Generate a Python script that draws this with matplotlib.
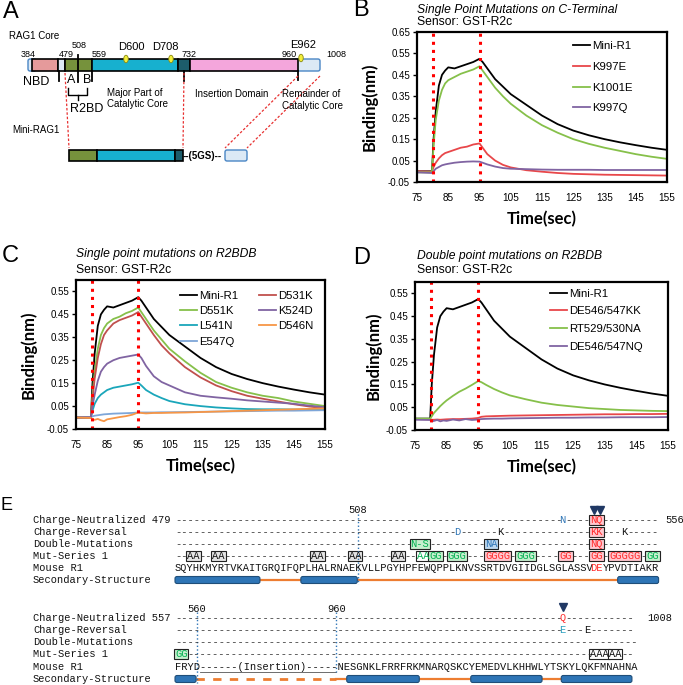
import numpy as np
import matplotlib
matplotlib.use("Agg")
import matplotlib.pyplot as plt
from matplotlib.patches import Rectangle, FancyBboxPatch, Ellipse
from matplotlib.ticker import FormatStrFormatter

SANS = ["Liberation Sans", "DejaVu Sans"]
BOLD = ["Lato", "DejaVu Sans"]
MONO = ["Liberation Mono", "DejaVu Sans Mono"]

# ---- sensorgram values (nm) ----
time_s = [75, 79.8, 80.3, 81, 82, 83, 84, 85, 87, 89, 91, 93, 95, 96, 97.5,
          100, 102.5, 105, 110, 115, 120, 125, 130, 135, 140, 145, 150, 155]

mini_r1 = [0.0, 0.0, 0.15, 0.28, 0.40, 0.45, 0.47, 0.485, 0.48, 0.49, 0.50, 0.51, 0.525, 0.51,
           0.48, 0.43, 0.395, 0.36, 0.31, 0.26, 0.22, 0.19, 0.168, 0.15, 0.135, 0.122, 0.11, 0.10]

# panel B
k997e = [0.0, -0.002, 0.02, 0.04, 0.06, 0.075, 0.085, 0.09, 0.10, 0.11, 0.115, 0.125, 0.13, 0.11,
         0.08, 0.05, 0.03, 0.018, 0.005, -0.002, -0.008, -0.012, -0.014, -0.016, -0.017, -0.018, -0.019, -0.02]
k1001e = [-0.005, -0.005, 0.12, 0.24, 0.33, 0.38, 0.41, 0.425, 0.44, 0.455, 0.465, 0.475, 0.49, 0.47,
          0.44, 0.39, 0.35, 0.315, 0.26, 0.215, 0.18, 0.15, 0.128, 0.11, 0.095, 0.08, 0.068, 0.058]
k997q = [-0.005, -0.008, 0.0, 0.012, 0.02, 0.028, 0.032, 0.035, 0.04, 0.043, 0.045, 0.046, 0.045, 0.04,
         0.032, 0.022, 0.015, 0.012, 0.01, 0.008, 0.007, 0.007, 0.007, 0.006, 0.006, 0.006, 0.006, 0.006]

# panel C
d531k = [0.0, 0.0, 0.08, 0.17, 0.26, 0.32, 0.36, 0.38, 0.41, 0.425, 0.435, 0.445, 0.46, 0.44,
         0.41, 0.36, 0.315, 0.28, 0.22, 0.175, 0.14, 0.115, 0.095, 0.082, 0.07, 0.058, 0.048, 0.04]
d551k = [0.0, 0.0, 0.10, 0.20, 0.30, 0.36, 0.39, 0.41, 0.43, 0.44, 0.455, 0.465, 0.48, 0.46,
         0.43, 0.38, 0.34, 0.30, 0.245, 0.195, 0.155, 0.13, 0.11, 0.095, 0.085, 0.07, 0.06, 0.05]
k524d = [0.0, 0.0, 0.05, 0.10, 0.16, 0.20, 0.22, 0.235, 0.25, 0.26, 0.265, 0.27, 0.275, 0.26,
         0.225, 0.18, 0.155, 0.14, 0.11, 0.095, 0.088, 0.082, 0.075, 0.07, 0.065, 0.06, 0.052, 0.045]
l541n = [0.0, 0.0, 0.03, 0.06, 0.085, 0.10, 0.11, 0.12, 0.13, 0.135, 0.14, 0.145, 0.152, 0.14,
         0.12, 0.10, 0.085, 0.072, 0.058, 0.05, 0.044, 0.04, 0.037, 0.036, 0.036, 0.035, 0.035, 0.035]
d546n = [0.0, -0.002, -0.008, -0.01, -0.006, -0.012, -0.016, -0.008, -0.003, 0.002, 0.006, 0.012, 0.022, 0.02,
         0.018, 0.02, 0.02, 0.021, 0.022, 0.024, 0.026, 0.028, 0.03, 0.032, 0.034, 0.036, 0.038, 0.04]
e547q = [0.0, 0.002, 0.005, 0.008, 0.01, 0.012, 0.014, 0.015, 0.017, 0.018, 0.019, 0.02, 0.022, 0.022,
         0.022, 0.022, 0.023, 0.023, 0.024, 0.025, 0.026, 0.027, 0.028, 0.029, 0.03, 0.03, 0.031, 0.032]

# panel D
de_kk = [-0.002, -0.003, -0.005, -0.005, -0.004, -0.005, -0.004, -0.003, -0.002, -0.002, -0.001, 0.0, 0.003, 0.008,
         0.01, 0.011, 0.012, 0.013, 0.014, 0.015, 0.016, 0.017, 0.018, 0.019, 0.019, 0.02, 0.02, 0.021]
rt_na = [0.0, 0.0, 0.01, 0.025, 0.04, 0.055, 0.068, 0.08, 0.10, 0.118, 0.132, 0.148, 0.165, 0.16,
         0.148, 0.13, 0.115, 0.102, 0.085, 0.07, 0.06, 0.053, 0.046, 0.042, 0.038, 0.036, 0.034, 0.033]
de_nq = [-0.005, -0.006, -0.012, -0.01, -0.006, -0.012, -0.008, -0.01, -0.004, -0.008, -0.002, -0.006, -0.004, -0.002,
         -0.001, 0.0, 0.0, 0.001, 0.002, 0.003, 0.004, 0.004, 0.005, 0.005, 0.006, 0.006, 0.006, 0.007]

# ---- sequence alignment (panel E) ----
seq1 = "SQYHKMYRTVKAITGRQIFQPLHALRNAEKVLLPGYHPFEWQPPLKNVSSRTDVGIIDGLSGLASSVDEYPVDTIAKR"
seq2 = "FRYD------(Insertion)-----NESGNKLFRRFRKMNARQSKCYEMEDVLKHHWLYTSKYLQKFMNAHNA"
row_names1 = ["Charge-Neutralized 479", "Charge-Reversal", "Double-Mutations",
              "Mut-Series 1", "Mouse R1", "Secondary-Structure"]
row_names2 = ["Charge-Neutralized 557", "Charge-Reversal", "Double-Mutations",
              "Mut-Series 1", "Mouse R1", "Secondary-Structure"]
# (start index, text, colour key, box fill key)
marks1 = [
    [(62, "N", "blue", None), (67, "NQ", "red", "red")],
    [(45, "D", "blue", None), (52, "K", "black", None), (67, "KK", "red", "red"), (72, "K", "black", None)],
    [(38, "N-S", "green", "green"), (50, "NA", "blue", "blue"), (67, "NQ", "red", "red")],
    [(2, "AA", "black", "gray"), (6, "AA", "black", "gray"), (22, "AA", "black", "gray"),
     (28, "AA", "black", "gray"), (35, "AA", "black", "gray"), (39, "AA", "green", "white"),
     (41, "GG", "green", "green"), (44, "GGG", "green", "green"), (50, "GGGG", "red", "red"),
     (55, "GGG", "green", "green"), (62, "GG", "red", "red"), (67, "GG", "red", "red"),
     (70, "GGGGG", "red", "red"), (76, "GG", "green", "green")],
]
marks2 = [
    [(62, "Q", "red", None)],
    [(62, "E", "cyan", None), (66, "E", "black", None)],
    [],
    [(0, "GG", "green", "green"), (67, "AAA", "black", "white"), (70, "AA", "black", "white")],
]
seq_red1 = [(67, "DE")]
helix1 = [(0, 13.7), (20.3, 29.4), (71.4, 78)]
helix2 = [(0, 3.4), (27.7, 39.4), (47.7, 59.2), (62.3, 73.7)]
insertion_gap = (3.4, 26.0)
triangles1 = [67, 68]
triangles2 = [62]

TXT_COL = {"blue": "#2e75b6", "red": "#ff2a2a", "green": "#00b050", "black": "#111111", "cyan": "#2aa0c0"}
BOX_COL = {"red": "#ffc7ce", "green": "#c6efce", "blue": "#bdd7ee", "gray": "#e4e4e4", "white": "#ffffff"}

fig = plt.figure(figsize=(6.83, 6.85), dpi=100)
ax0 = fig.add_axes([0, 0, 1, 1])
ax0.set_xlim(0, 683)
ax0.set_ylim(685, 0)
ax0.axis("off")

# ---------------- panel letters ----------------
for lab, x, y, s in [("A", 3, 12, 17), ("B", 353, 10, 17), ("C", 2, 256, 17),
                     ("D", 353, 258, 17), ("E", 1, 505, 13)]:
    ax0.text(x, y, lab, fontsize=s, family=SANS, ha="left", va="center")

# ---------------- panel A: domain schematic ----------------
y0, y1 = 59, 71
ax0.add_patch(FancyBboxPatch((28, y0), 8, y1 - y0, boxstyle="round,pad=0,rounding_size=2",
                             fc="#dce9f5", ec="#4a86c5", lw=1))
ax0.add_patch(FancyBboxPatch((292, y0), 28, y1 - y0, boxstyle="round,pad=0,rounding_size=2",
                             fc="#dce9f5", ec="#4a86c5", lw=1))
for xa, xb, c in [(31.7, 58.3, "#e59a9b"), (58.3, 65, "#dce9f5"), (65, 91.7, "#76923c"),
                  (91.7, 178.3, "#17b0cf"), (178.3, 190, "#1d5d6b"), (190, 298.3, "#f4a6dc")]:
    ax0.add_patch(Rectangle((xa, y0), xb - xa, y1 - y0, fc=c, ec="k", lw=1.2))
for x, ya, yb in [(59, 71, 81), (78, 55, 82), (92, 71, 81), (184, 71, 81), (298, 71, 80)]:
    ax0.plot([x, x], [ya, yb], color="k", lw=1.3)
for x, y in [(126, 59), (171, 59), (301, 58)]:
    ax0.add_patch(Ellipse((x, y), 4.5, 7.5, fc="#f2ee3a", ec="#8a8a10", lw=0.6, zorder=5))
ax0.text(9, 36, "RAG1 Core", fontsize=7, family=SANS, va="center")
for t, x, y in [("384", 21, 54), ("479", 59, 54), ("508", 72, 45), ("559", 92, 54),
                ("732", 182, 54), ("960", 282, 54), ("1008", 326, 54)]:
    ax0.text(x, y, t, fontsize=6.5, family=SANS, va="center")
for t, x, y in [("D600", 118, 47), ("D708", 152, 47), ("E962", 290, 45)]:
    ax0.text(x, y, t, fontsize=8, family=SANS, va="center")
ax0.text(23, 82, "NBD", fontsize=9, family=SANS, va="center")
ax0.text(67, 80, "A", fontsize=9, family=SANS, va="center")
ax0.text(83, 80, "B", fontsize=9, family=SANS, va="center")
ax0.plot([68, 68, 87, 87], [88, 95, 95, 88], color="k", lw=1)
ax0.plot([77.5, 77.5], [95, 100], color="k", lw=1)
ax0.text(70, 109, "R2BD", fontsize=9, family=SANS, va="center")
ax0.text(107, 93, "Major Part of", fontsize=7, family=SANS, va="center")
ax0.text(107, 104, "Catalytic Core", fontsize=7, family=SANS, va="center")
ax0.text(195, 94, "Insertion Domain", fontsize=7, family=SANS, va="center")
ax0.text(282, 94, "Remainder of", fontsize=7, family=SANS, va="center")
ax0.text(282, 106, "Catalytic Core", fontsize=7, family=SANS, va="center")
ax0.text(12, 130, "Mini-RAG1", fontsize=7, family=SANS, va="center")
m0, m1 = 150, 161
for xa, xb, c in [(69, 97, "#76923c"), (97, 175, "#17b0cf"), (175, 183, "#1d5d6b")]:
    ax0.add_patch(Rectangle((xa, m0), xb - xa, m1 - m0, fc=c, ec="k", lw=1.2))
ax0.text(183, 156, "--(5GS)--", fontsize=7, family=SANS, weight="bold", va="center")
ax0.add_patch(FancyBboxPatch((225, m0), 22, m1 - m0, boxstyle="round,pad=0,rounding_size=2",
                             fc="#dce9f5", ec="#4a86c5", lw=1))
for (xa, ya), (xb, yb) in [((65, 73), (69, 148)), ((184, 73), (183, 148)),
                           ((298, 76), (225, 148)), ((320, 76), (247, 148))]:
    ax0.plot([xa, xb], [ya, yb], color="#e83030", lw=0.9, ls=(0, (2, 1.5)))

# ---------------- kinetic panels ----------------
def kinetic_panel(rect, ymax, yticks, series, legend_xy, ncol, lspace, ylab_x):
    ax = fig.add_axes(rect)
    for vals, col, lab in series:
        ax.plot(time_s, vals, color=col, lw=1.3, label=lab)
    ax.axvline(80, color="#ff0000", ls=":", lw=2.2)
    ax.axvline(95, color="#ff0000", ls=":", lw=2.2)
    ax.set_xlim(75, 155)
    ax.set_ylim(-0.05, ymax)
    ax.set_xticks([75, 85, 95, 105, 115, 125, 135, 145, 155])
    ax.set_yticks(yticks)
    ax.yaxis.set_major_formatter(FormatStrFormatter("%.2f"))
    ax.tick_params(axis="x", length=0, pad=8, labelsize=7.2)
    ax.tick_params(axis="y", length=3, width=1, pad=2, labelsize=7.0)
    for lbl in ax.get_xticklabels() + ax.get_yticklabels():
        lbl.set_family(SANS)
    for s in ax.spines.values():
        s.set_linewidth(1.6)
    ax.legend(loc="upper left", bbox_to_anchor=legend_xy, ncol=ncol, frameon=False,
              prop={"family": SANS, "size": 8.2}, handlelength=1.5, handletextpad=0.2,
              labelspacing=lspace, columnspacing=1.8, borderpad=0, borderaxespad=0)
    ax.text(ylab_x, 0.5, "Binding(nm)", transform=ax.transAxes, rotation=90, ha="center",
            va="center", fontsize=12, weight="bold", family=BOLD)
    ax.text(0.5, -0.25, "Time(sec)", transform=ax.transAxes, ha="center", va="center",
            fontsize=12, weight="bold", family=BOLD)
    return ax

ticks_b = [-0.05, 0.05, 0.15, 0.25, 0.35, 0.45, 0.55, 0.65]
ticks_cd = [-0.05, 0.05, 0.15, 0.25, 0.35, 0.45, 0.55]

kinetic_panel([417 / 683, 1 - 182 / 685, 250 / 683, 150 / 685], 0.65, ticks_b,
              [(mini_r1, "black", "Mini-R1"), (k997e, "#e8474a", "K997E"),
               (k1001e, "#86c04a", "K1001E"), (k997q, "#8064a2", "K997Q")],
              (0.624, 0.94), 1, 0.95, -0.19)
ax0.text(417, 10, "Single Point Mutations on C-Terminal", fontsize=8.7, style="italic",
         family=SANS, va="center")
ax0.text(417, 22, "Sensor: GST-R2c", fontsize=8.7, family=SANS, va="center")

kinetic_panel([76 / 683, 1 - 429 / 685, 249 / 683, 149 / 685], 0.60, ticks_cd,
              [(mini_r1, "black", "Mini-R1"), (d551k, "#86c04a", "D551K"),
               (l541n, "#1aa6ba", "L541N"), (e547q, "#7ea6d8", "E547Q"),
               (d531k, "#c0504d", "D531K"), (k524d, "#8064a2", "K524D"),
               (d546n, "#f79646", "D546N")],
              (0.418, 0.925), 2, 0.45, -0.19)
ax0.text(76, 254, "Single point mutations on R2BDB", fontsize=8.7, style="italic",
         family=SANS, va="center")
ax0.text(76, 270, "Sensor: GST-R2c", fontsize=8.7, family=SANS, va="center")

kinetic_panel([415 / 683, 1 - 430 / 685, 253 / 683, 148 / 685], 0.60, ticks_cd,
              [(mini_r1, "black", "Mini-R1"), (de_kk, "#e8474a", "DE546/547KK"),
               (rt_na, "#86c04a", "RT529/530NA"), (de_nq, "#8064a2", "DE546/547NQ")],
              (0.534, 0.955), 1, 0.68, -0.166)
ax0.text(417, 256, "Double point mutations on R2BDB", fontsize=8.7, style="italic",
         family=SANS, va="center")
ax0.text(417, 270, "Sensor: GST-R2c", fontsize=8.7, family=SANS, va="center")

# ---------------- panel E: alignment ----------------
FS = 7.44
CW = 0.6 * FS * 100 / 72
XS = 175
XL = 33


def cx(i):
    return XS + i * CW


def mono(x, y, s, color="#111111", **kw):
    ax0.text(x, y, s, family=MONO, fontsize=FS, color=color, ha="left", va="center", **kw)


def dash_runs(y, n, marks):
    # draw only the dash stretches between the marked residues
    taken = [False] * n
    for st, txt, c, f in marks:
        for k in range(len(txt)):
            taken[st + k] = True
    i = 0
    while i < n:
        if taken[i]:
            i += 1
            continue
        j = i
        while j < n and not taken[j]:
            j += 1
        mono(cx(i), y, "-" * (j - i), color="#333333")
        i = j


def mut_row(y, n, marks):
    dash_runs(y, n, marks)
    for st, txt, c, f in marks:
        if f is not None:
            ax0.add_patch(Rectangle((cx(st) - 1, y - 5), len(txt) * CW + 2, 10,
                                    fc=BOX_COL[f], ec="#222222", lw=0.8))
        mono(cx(st), y, txt, color=TXT_COL[c])


def block(ys, names, seq, marks, red_parts, helices, dashed=None):
    for y, nm in zip(ys, names):
        mono(XL, y, nm)
    for y, mk in zip(ys[:4], marks):
        mut_row(y, len(seq), mk)
    # sequence: plain stretches in black, highlighted residues in red
    cut = [0]
    for st, txt in red_parts:
        cut += [st, st + len(txt)]
    cut.append(len(seq))
    for k in range(0, len(cut) - 1):
        a, b = cut[k], cut[k + 1]
        if b > a:
            mono(cx(a), ys[4], seq[a:b], color="#ff2a2a" if k % 2 else "#111111")
    ysec = ys[5]
    for k in range(len(helices) - 1):
        xa, xb = cx(helices[k][1]), cx(helices[k + 1][0])
        if dashed is not None and abs(helices[k][1] - dashed[0]) < 0.01:
            ax0.plot([xa, cx(dashed[1])], [ysec, ysec], color="#ed7d31", lw=2,
                     ls=(0, (3, 3)))
            ax0.plot([cx(dashed[1]), xb], [ysec, ysec], color="#ed7d31", lw=1.6)
            continue
        ax0.plot([xa, xb], [ysec, ysec], color="#ed7d31", lw=1.6)
    for ha, hb in helices:
        ax0.add_patch(FancyBboxPatch((cx(ha), ysec - 3.5), cx(hb) - cx(ha), 7,
                                     boxstyle="round,pad=0,rounding_size=2",
                                     fc="#2e75b6", ec="#1f4e79", lw=0.8, zorder=3))


ys1 = [520, 532, 544, 556, 568, 580]
ys2 = [618, 630, 642, 654, 667, 679]
block(ys1, row_names1, seq1, marks1, seq_red1, helix1)
block(ys2, row_names2, seq2, marks2, [], helix2, dashed=insertion_gap)

# insertion underline
ax0.plot([cx(4), cx(26)], [672, 672], color="#555555", lw=0.6)

# residue markers
mono(cx(29.5) - 1.5 * CW, 510, "508")
ax0.plot([cx(29.5)] * 2, [514, 584], color="#2e75b6", lw=1, ls=":")
mono(cx(3.5) - 1.5 * CW, 609, "560")
ax0.plot([cx(3.5)] * 2, [612, 683], color="#2e75b6", lw=1, ls=":")
mono(cx(26) - 1.5 * CW, 609, "960")
ax0.plot([cx(26)] * 2, [612, 672], color="#2e75b6", lw=1, ls=":")
mono(665, 520, "556")
mono(647, 618, "1008")
for i in triangles1:
    ax0.plot(cx(i + 0.5), 510, marker="v", ms=5.5, color="#203864", ls="none")
for i in triangles2:
    ax0.plot(cx(i + 0.5), 607, marker="v", ms=5.5, color="#203864", ls="none")

fig.savefig("out.png", dpi=100)
